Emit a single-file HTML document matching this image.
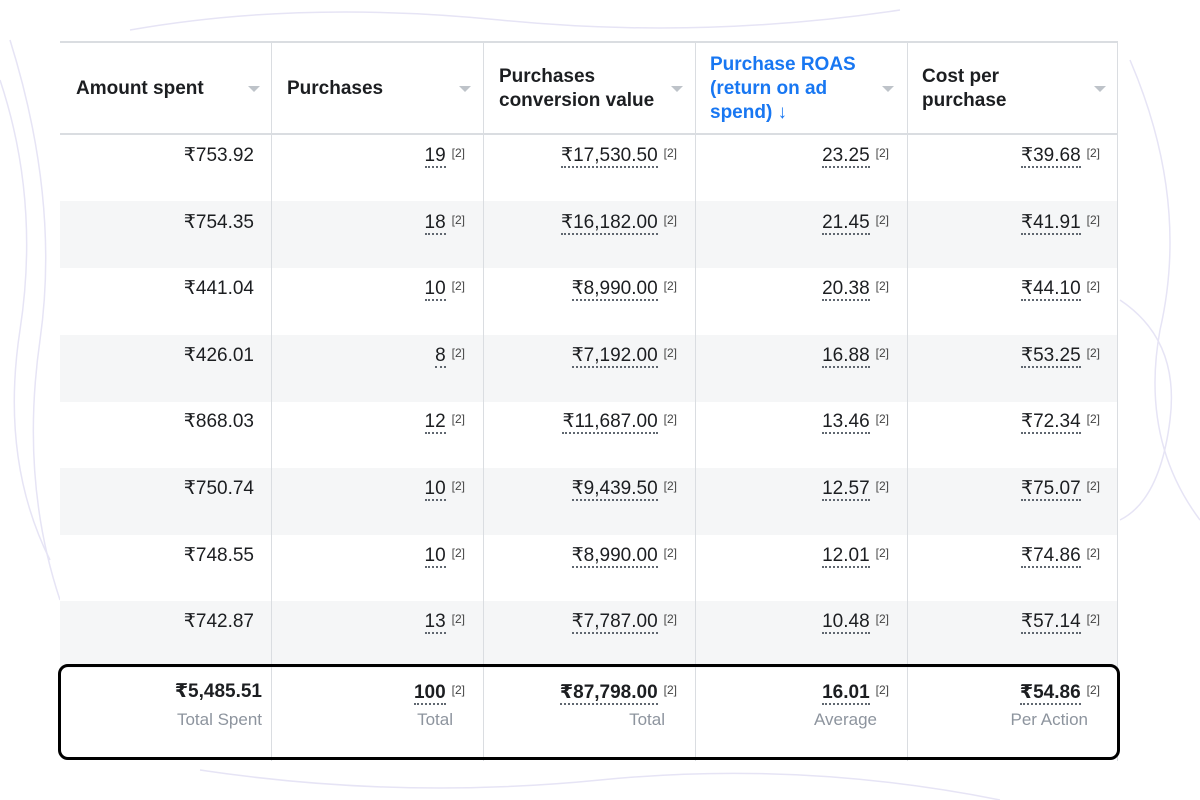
<!DOCTYPE html>
<html><head><meta charset="utf-8"><style>
*{margin:0;padding:0;box-sizing:border-box}
body{width:1200px;height:800px;background:#fff;position:relative;overflow:hidden;font-family:"Liberation Sans","DejaVu Sans",sans-serif;color:#1c1e21}
.bg{position:absolute;left:0;top:0}
.tbl{position:absolute;left:60px;top:41px;width:1058px;height:718px;background:#fff;border-top:2px solid #dadde1}
.row{position:absolute;left:0;width:1058px;height:67px}
.g{background:#f5f6f7}
.vl{position:absolute;top:0;width:1px;height:718px;background:#dadde1}
.hd{position:absolute;top:0;height:92px;border-bottom:2px solid #dadde1;width:1058px;left:0}
.h{position:absolute;font-weight:bold;font-size:19px;line-height:24px;color:#1c1e21}
.tri{position:absolute;width:0;height:0;border-left:6px solid transparent;border-right:6px solid transparent;border-top:6px solid #bec3c9}
.c{position:absolute;font-size:19px;line-height:22px;text-align:right;white-space:nowrap}
.u{border-bottom:2px dotted #606770}
.s{font-size:12px;vertical-align:4px;margin-left:6px;color:#444}
.f{font-weight:bold}
.l{position:absolute;font-size:17px;color:#8d949e;text-align:right;white-space:nowrap}
.box{position:absolute;left:58px;top:664px;width:1062px;height:96px;border:3px solid #000;border-radius:10px}
</style></head><body>
<svg class="bg" width="1200" height="800">
<g fill="none" stroke="#e6e4f5" stroke-width="1.5">
<path d="M0 80 Q40 200 20 330 Q0 460 50 560"/><path d="M10 40 Q60 200 40 340 Q20 480 60 600"/>
<path d="M1130 60 Q1190 200 1160 330 Q1140 440 1200 520"/><path d="M1120 300 Q1180 340 1170 420 Q1160 500 1120 520"/>
<path d="M200 770 Q400 800 600 780 Q800 760 1000 800"/><path d="M130 30 Q300 0 500 20 Q700 40 900 10"/>
</g></svg>
<div class="tbl">
<div class="row g" style="top:158px"></div>
<div class="row g" style="top:292px"></div>
<div class="row g" style="top:425px"></div>
<div class="row g" style="top:558px"></div>
<div class="hd"></div>
<div class="vl" style="left:211px"></div><div class="vl" style="left:423px"></div><div class="vl" style="left:635px"></div><div class="vl" style="left:847px"></div><div class="vl" style="left:1057px"></div>
<div class="h" style="left:16px;top:34px">Amount spent</div><div class="tri" style="left:188px;top:43px"></div>
<div class="h" style="left:227px;top:34px">Purchases</div><div class="tri" style="left:399px;top:43px"></div>
<div class="h" style="left:439px;top:22px">Purchases<br>conversion value</div><div class="tri" style="left:611px;top:43px"></div>
<div class="h" style="left:650px;top:10px;color:#1877f2">Purchase ROAS<br>(return on ad<br>spend) ↓</div><div class="tri" style="left:822px;top:43px"></div>
<div class="h" style="left:862px;top:22px">Cost per<br>purchase</div><div class="tri" style="left:1034px;top:43px"></div>
</div>
<div id="cells"></div>
<div class="box"></div>
<script>
var d=[["₹753.92","19","₹17,530.50","23.25","₹39.68"],["₹754.35","18","₹16,182.00","21.45","₹41.91"],["₹441.04","10","₹8,990.00","20.38","₹44.10"],["₹426.01","8","₹7,192.00","16.88","₹53.25"],["₹868.03","12","₹11,687.00","13.46","₹72.34"],["₹750.74","10","₹9,439.50","12.57","₹75.07"],["₹748.55","10","₹8,990.00","12.01","₹74.86"],["₹742.87","13","₹7,787.00","10.48","₹57.14"]];
var R=[271,483,695,907,1118],h="";
d.forEach(function(r,i){var y=143+i*66.6;r.forEach(function(v,j){var rt=j==0?1200-R[0]+17:1200-R[j]+18;
h+='<div class="c" style="right:'+rt+'px;top:'+(j==0?y+2:y-1)+'px">'+(j==0?v:'<span class="u">'+v+'</span><span class="s">[2]</span>')+'</div>';});});
var t=["₹5,485.51","100","₹87,798.00","16.01","₹54.86"],L=["Total Spent","Total","Total","Average","Per Action"];
t.forEach(function(v,j){var rt=j==0?1200-R[0]+9:1200-R[j]+18;
h+='<div class="c f" style="right:'+rt+'px;top:'+(j==0?681:679)+'px">'+(j==0?v:'<span class="u">'+v+'</span><span class="s" style="font-weight:normal">[2]</span>')+'</div>';
h+='<div class="l" style="right:'+(1200-R[j]+(j==0?9:30))+'px;top:710px">'+L[j]+'</div>';});
document.getElementById("cells").innerHTML=h;
</script>
</body></html>
